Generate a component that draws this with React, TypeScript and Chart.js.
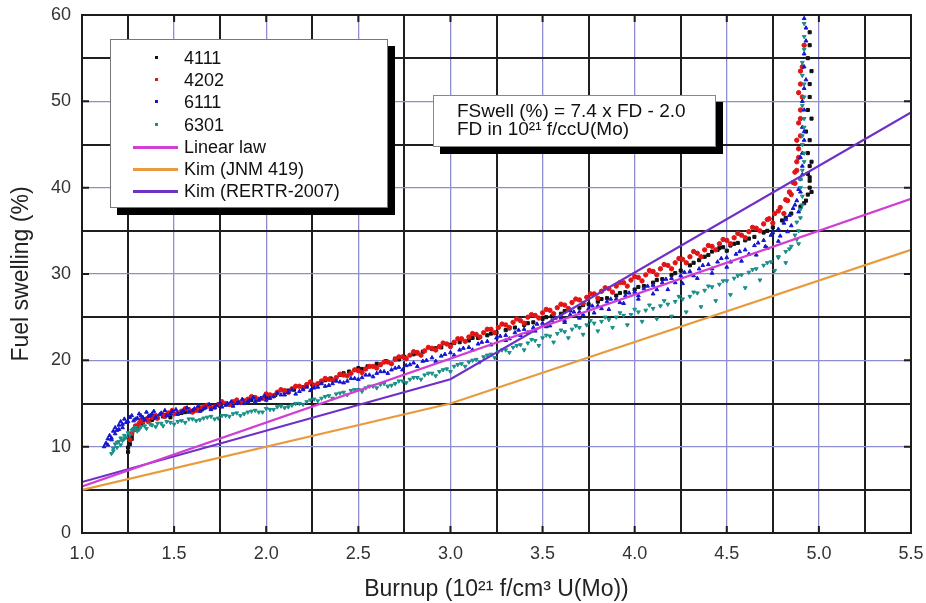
import React, { useEffect, useRef } from 'react';
import { Chart, registerables } from 'chart.js';
Chart.register(...registerables);

// ---------- axis settings ----------
const xMin = 1.0;
const xMax = 5.5;
const yMin = 0;
const yMax = 60;
const xStep = 0.25;
const yStep = 5;
const xMajor = 0.5;
const yMajor = 10;

const xTitle = 'Burnup (10²¹ f/cm³ U(Mo))';
const yTitle = 'Fuel swelling (%)';

// ---------- series names / colours ----------
const seriesNames = ['4111', '4202', '6111', '6301'];
const lineNames = ['Linear law', 'Kim (JNM 419)', 'Kim (RERTR-2007)'];
const formulaLines = ['FSwell (%) = 7.4 x FD - 2.0', 'FD in 10²¹ f/ccU(Mo)'];

const s4111: [number, number][] = [
  [1.25, 9.4], [1.25, 9.9], [1.26, 10.3], [1.26, 10.8], [1.27, 11.3], [1.28, 11.9], [1.30, 12.4], [1.33, 12.8],
  [1.36, 13.0], [1.40, 13.3], [1.44, 13.5], [1.48, 13.4], [1.52, 13.8], [1.56, 14.0], [1.60, 14.1], [1.65, 14.3],
  [1.70, 14.5], [1.75, 14.7], [1.80, 14.9], [1.85, 15.1], [1.90, 15.3], [1.95, 15.5], [2.00, 15.7], [2.05, 16.0],
  [2.10, 16.3], [2.15, 16.6], [2.20, 16.9], [2.25, 17.2], [2.30, 17.5], [2.35, 17.9], [2.40, 18.3], [2.45, 18.7],
  [2.50, 19.1], [2.55, 19.3], [2.60, 19.6], [2.65, 19.9], [2.70, 20.2], [2.75, 20.4], [2.80, 20.7], [2.85, 21.0],
  [2.90, 21.3], [2.95, 21.5], [3.00, 21.8], [3.05, 22.1], [3.10, 22.3], [3.15, 22.6], [3.20, 22.9], [3.25, 23.2],
  [3.30, 23.5], [3.35, 23.8], [3.40, 24.1], [3.45, 24.4], [3.50, 24.8], [3.55, 25.1], [3.60, 25.4], [3.65, 25.8],
  [3.70, 26.1], [3.75, 26.5], [3.80, 26.8], [3.85, 27.2], [3.90, 27.5], [3.95, 27.9], [4.00, 28.2], [4.05, 28.6],
  [4.10, 29.0], [4.15, 29.4], [4.20, 29.9], [4.25, 30.4], [4.30, 31.0], [4.35, 31.6], [4.40, 32.2], [4.45, 32.8],
  [4.48, 33.1], [4.52, 33.3], [4.56, 33.6], [4.60, 33.9], [4.65, 34.3], [4.70, 34.8], [4.75, 35.4], [4.80, 36.2],
  [4.85, 37.0], [4.90, 37.8], [4.93, 38.5], [4.94, 39.2], [4.95, 40.0], [4.95, 40.8], [4.94, 41.6], [4.95, 42.5],
  [4.94, 44.0], [4.93, 46.5], [4.94, 49.0], [4.95, 52.0], [4.94, 55.0], [4.95, 58.0],
  [1.27, 10.9], [1.29, 12.1], [1.32, 12.6], [1.38, 13.1], [1.46, 13.7], [1.54, 13.9], [1.62, 14.3], [1.72, 14.6],
  [1.82, 15.0], [1.92, 15.4], [2.02, 15.9], [2.12, 16.5], [2.22, 17.1], [2.32, 17.7], [2.42, 18.5], [2.52, 19.0],
  [2.62, 19.5], [2.72, 20.1], [2.82, 20.8], [2.92, 21.4], [3.02, 22.0], [3.12, 22.6], [3.22, 23.1], [3.32, 23.7],
  [3.42, 24.3], [3.52, 25.0], [3.62, 25.7], [3.72, 26.4], [3.82, 27.1], [3.92, 27.8], [4.02, 28.5], [4.12, 29.3],
  [4.22, 30.1], [4.32, 31.3], [4.38, 32.0], [4.42, 32.6], [4.46, 33.0], [4.50, 32.7], [4.54, 33.5], [4.62, 34.1],
  [4.72, 35.0], [4.82, 36.5], [4.92, 38.2], [4.96, 39.5], [4.95, 41.2], [4.96, 43.0], [4.95, 45.5], [4.96, 48.0],
  [4.95, 50.5], [4.96, 53.5], [4.95, 56.5],
];

const s4202: [number, number][] = [
  [1.26, 10.8], [1.27, 11.5], [1.28, 12.0], [1.29, 12.4], [1.30, 12.2], [1.31, 12.7], [1.33, 12.9], [1.35, 13.2],
  [1.38, 13.4], [1.41, 13.3], [1.44, 13.7], [1.47, 13.9], [1.50, 13.8], [1.54, 14.1], [1.58, 14.3], [1.62, 14.2],
  [1.66, 14.6], [1.70, 14.5], [1.74, 14.9], [1.78, 15.0], [1.82, 15.2], [1.86, 15.1], [1.90, 15.5], [1.94, 15.7],
  [1.98, 15.6], [2.02, 16.0], [2.06, 16.3], [2.10, 16.5], [2.14, 16.7], [2.18, 17.0], [2.22, 17.2], [2.26, 17.1],
  [2.30, 17.6], [2.34, 17.8], [2.38, 18.0], [2.42, 18.3], [2.46, 18.5], [2.50, 18.8], [2.54, 19.0], [2.58, 19.3],
  [2.62, 19.5], [2.66, 19.8], [2.70, 20.1], [2.74, 20.4], [2.78, 20.6], [2.82, 20.9], [2.86, 21.1], [2.90, 21.4],
  [2.94, 21.6], [2.98, 21.9], [3.02, 22.1], [3.06, 22.5], [3.10, 22.7], [3.14, 23.0], [3.18, 23.2], [3.22, 23.6],
  [3.26, 23.8], [3.30, 24.1], [3.34, 24.4], [3.38, 24.6], [3.42, 25.0], [3.46, 25.2], [3.50, 25.5], [3.54, 25.8],
  [3.58, 26.1], [3.62, 26.4], [3.66, 26.7], [3.70, 27.0], [3.74, 27.3], [3.78, 27.7], [3.82, 28.0], [3.86, 28.3],
  [3.90, 28.6], [3.94, 29.0], [3.98, 29.3], [4.02, 29.6], [4.06, 29.9], [4.10, 30.3], [4.14, 30.6], [4.18, 31.0],
  [4.22, 31.3], [4.26, 31.7], [4.30, 32.0], [4.34, 32.4], [4.38, 32.8], [4.42, 33.2], [4.46, 33.5], [4.50, 33.9],
  [4.54, 34.2], [4.58, 34.5], [4.62, 34.9], [4.66, 35.3], [4.70, 35.8], [4.73, 36.4], [4.76, 37.0], [4.79, 37.7],
  [4.82, 38.6], [4.84, 39.5], [4.86, 40.6], [4.87, 41.8], [4.88, 43.0], [4.89, 44.5], [4.90, 46.0], [4.89, 47.5],
  [4.90, 49.0], [4.91, 50.5], [4.90, 52.0], [4.91, 54.0], [4.92, 56.5],
  [1.32, 13.1], [1.36, 12.9], [1.40, 13.6], [1.45, 13.5], [1.49, 14.2], [1.52, 13.9], [1.56, 14.4], [1.60, 14.0],
  [1.64, 14.5], [1.68, 14.8], [1.72, 14.6], [1.76, 15.2], [1.80, 14.9], [1.84, 15.4], [1.88, 15.3], [1.92, 15.8],
  [1.96, 15.5], [2.00, 16.1], [2.04, 15.9], [2.08, 16.6], [2.12, 16.3], [2.16, 17.0], [2.20, 16.8], [2.24, 17.5],
  [2.28, 17.3], [2.32, 17.9], [2.36, 17.7], [2.40, 18.4], [2.44, 18.2], [2.48, 18.9], [2.52, 18.6], [2.56, 19.3],
  [2.60, 19.1], [2.64, 19.8], [2.68, 19.6], [2.72, 20.4], [2.76, 20.2], [2.80, 21.0], [2.84, 20.6], [2.88, 21.5],
  [2.92, 21.2], [2.96, 22.0], [3.00, 21.6], [3.04, 22.5], [3.08, 22.2], [3.12, 23.1], [3.16, 22.7], [3.20, 23.6],
  [3.24, 23.2], [3.28, 24.2], [3.32, 23.8], [3.36, 24.8], [3.40, 24.3], [3.44, 25.3], [3.48, 24.9], [3.52, 25.9],
  [3.56, 25.4], [3.60, 26.5], [3.64, 26.0], [3.68, 27.1], [3.72, 26.6], [3.76, 27.7], [3.80, 27.2], [3.84, 28.4],
  [3.88, 27.9], [3.92, 29.0], [3.96, 28.6], [4.00, 29.7], [4.04, 29.2], [4.08, 30.4], [4.12, 29.9], [4.16, 31.1],
  [4.20, 30.6], [4.24, 31.8], [4.28, 31.3], [4.32, 32.6], [4.36, 32.0], [4.40, 33.3], [4.44, 32.8], [4.48, 34.0],
  [4.52, 33.5], [4.56, 34.7], [4.60, 34.2], [4.64, 35.4], [4.68, 35.0], [4.72, 36.3], [4.75, 35.9], [4.78, 37.3],
  [4.81, 37.0], [4.83, 38.5], [4.85, 39.2], [4.87, 40.5], [4.88, 42.0], [4.89, 43.5], [4.88, 45.5], [4.90, 48.0],
  [4.89, 51.0], [4.90, 53.5],
];

const s6111: [number, number][] = [
  [1.12, 10.0], [1.13, 10.4], [1.14, 10.9], [1.15, 11.3], [1.16, 11.0], [1.17, 11.8], [1.18, 12.2], [1.19, 11.9],
  [1.20, 12.5], [1.21, 12.9], [1.22, 12.6], [1.23, 13.2], [1.24, 12.8], [1.26, 13.4], [1.28, 13.0], [1.30, 13.3],
  [1.32, 13.6], [1.34, 13.1], [1.36, 13.5], [1.38, 13.8], [1.40, 13.4], [1.43, 13.9], [1.46, 13.6], [1.49, 14.1],
  [1.52, 13.8], [1.55, 14.2], [1.58, 14.0], [1.61, 14.4], [1.64, 14.1], [1.67, 14.5], [1.70, 14.3], [1.73, 14.8],
  [1.76, 14.6], [1.79, 15.0], [1.82, 14.7], [1.85, 15.1], [1.88, 15.0], [1.91, 15.4], [1.94, 15.2], [1.97, 15.6],
  [2.00, 15.4], [2.04, 15.8], [2.08, 16.0], [2.12, 16.3], [2.16, 16.1], [2.20, 16.6], [2.24, 16.5], [2.28, 16.9],
  [2.32, 17.0], [2.36, 17.3], [2.40, 17.5], [2.44, 17.6], [2.48, 17.9], [2.52, 18.0], [2.56, 18.3], [2.60, 18.5],
  [2.64, 18.7], [2.68, 18.9], [2.72, 19.2], [2.76, 19.4], [2.80, 19.7], [2.85, 19.9], [2.90, 20.3], [2.95, 20.5],
  [3.00, 20.9], [3.05, 21.2], [3.10, 21.5], [3.15, 21.9], [3.20, 22.2], [3.25, 22.6], [3.30, 22.9], [3.35, 23.2],
  [3.40, 23.6], [3.45, 23.8], [3.50, 24.3], [3.55, 24.6], [3.60, 24.9], [3.65, 25.3], [3.70, 25.6], [3.75, 26.0],
  [3.80, 26.3], [3.85, 26.8], [3.90, 27.1], [3.95, 27.5], [4.00, 27.9], [4.05, 28.3], [4.10, 28.7], [4.15, 29.0],
  [4.20, 29.5], [4.25, 29.8], [4.30, 30.3], [4.35, 30.6], [4.40, 31.1], [4.45, 31.4], [4.50, 31.9], [4.55, 32.3],
  [4.60, 32.8], [4.65, 33.3], [4.70, 33.9], [4.74, 34.5], [4.78, 35.2], [4.81, 35.9], [4.84, 36.8], [4.86, 37.6],
  [4.88, 38.5], [4.89, 39.8], [4.90, 41.0], [4.91, 42.5], [4.91, 44.0], [4.92, 45.5], [4.91, 47.0], [4.92, 49.0],
  [4.92, 51.5], [4.92, 54.0], [4.93, 57.0], [4.92, 59.6],
  [3.30, 22.3], [3.38, 22.9], [3.46, 23.4], [3.54, 24.0], [3.62, 24.4], [3.70, 24.9], [3.78, 25.5], [3.86, 25.9],
  [3.94, 26.6], [4.02, 27.1], [4.10, 27.7], [4.18, 28.2], [4.26, 28.9], [4.34, 29.5], [4.42, 30.1], [4.50, 30.8],
  [4.58, 31.5], [4.66, 32.2], [4.72, 33.0], [4.78, 33.8], [4.83, 34.9],
  [1.14, 10.2], [1.16, 10.8], [1.18, 11.5], [1.20, 12.0], [1.22, 12.2], [1.25, 12.9], [1.27, 13.6], [1.29, 13.2],
  [1.31, 13.8], [1.33, 13.4], [1.35, 14.0], [1.37, 13.6], [1.39, 14.1], [1.42, 13.7], [1.45, 14.2], [1.48, 13.8],
  [1.51, 14.3], [1.54, 14.0], [1.57, 14.5], [1.60, 14.2], [1.63, 14.7], [1.66, 14.4], [1.69, 14.9], [1.72, 14.5],
  [1.75, 15.1], [1.78, 14.8], [1.81, 15.2], [1.84, 15.0], [1.87, 15.5], [1.90, 15.2], [1.93, 15.7], [1.96, 15.4],
  [1.99, 15.9], [2.02, 15.6], [2.06, 16.2], [2.10, 16.0], [2.14, 16.6], [2.18, 16.4], [2.22, 16.9], [2.26, 16.8],
  [2.30, 17.3], [2.34, 17.1], [2.38, 17.6], [2.42, 17.4], [2.46, 17.9], [2.50, 17.8], [2.54, 18.3], [2.58, 18.1],
  [2.62, 18.7], [2.66, 18.5], [2.70, 19.1], [2.74, 18.9], [2.78, 19.5], [2.82, 19.3], [2.87, 20.0], [2.92, 19.9],
  [2.97, 20.7], [3.02, 20.6], [3.07, 21.4], [3.12, 21.2], [3.17, 22.1], [3.22, 21.8], [3.27, 22.8], [3.32, 22.5],
  [3.37, 23.5], [3.42, 23.2], [3.47, 24.2], [3.52, 23.9], [3.57, 24.9], [3.62, 24.6], [3.67, 25.6], [3.72, 25.3],
  [3.77, 26.3], [3.82, 26.0], [3.87, 27.1], [3.92, 26.7], [3.97, 27.8], [4.02, 27.5], [4.07, 28.6], [4.12, 28.2],
  [4.17, 29.4], [4.22, 29.0], [4.27, 30.2], [4.32, 29.8], [4.37, 31.0], [4.42, 30.6], [4.47, 31.8], [4.52, 31.4],
  [4.57, 32.6], [4.62, 32.3], [4.67, 33.6], [4.71, 33.2], [4.75, 34.8], [4.79, 34.4], [4.82, 36.3], [4.85, 35.6],
  [4.87, 38.0], [4.89, 37.2], [4.90, 39.5], [4.91, 41.5], [4.90, 43.5], [4.92, 46.5], [4.91, 50.0], [4.93, 52.5],
  [4.92, 55.5], [4.93, 58.5],
];

const s6301: [number, number][] = [
  [1.16, 9.2], [1.17, 9.8], [1.18, 10.3], [1.19, 9.9], [1.20, 10.6], [1.21, 11.0], [1.22, 10.7], [1.23, 11.3],
  [1.25, 11.6], [1.27, 11.9], [1.29, 12.2], [1.31, 12.0], [1.34, 12.4], [1.37, 12.6], [1.40, 12.3], [1.43, 12.7],
  [1.46, 12.9], [1.50, 12.6], [1.54, 13.0], [1.58, 13.2], [1.62, 13.0], [1.66, 13.3], [1.70, 13.5], [1.74, 13.3],
  [1.78, 13.6], [1.82, 13.8], [1.86, 13.6], [1.90, 14.0], [1.94, 14.2], [1.98, 14.0], [2.02, 14.3], [2.06, 14.6],
  [2.10, 14.5], [2.14, 14.8], [2.18, 15.0], [2.22, 15.2], [2.26, 15.5], [2.30, 15.6], [2.34, 15.9], [2.38, 16.1],
  [2.42, 16.3], [2.46, 16.5], [2.50, 16.6], [2.54, 16.8], [2.58, 17.0], [2.62, 17.2], [2.66, 17.0], [2.70, 17.3],
  [2.74, 17.6], [2.78, 17.8], [2.82, 18.0], [2.86, 18.3], [2.90, 18.5], [2.94, 18.7], [2.98, 19.0], [3.02, 19.3],
  [3.06, 19.6], [3.10, 19.8], [3.14, 20.1], [3.18, 20.4], [3.22, 20.7], [3.26, 21.0], [3.30, 21.2], [3.34, 21.5],
  [3.38, 21.8], [3.42, 22.0], [3.46, 22.3], [3.50, 22.6], [3.54, 22.8], [3.58, 23.1], [3.62, 23.3], [3.66, 23.6],
  [3.70, 23.8], [3.74, 24.1], [3.78, 24.3], [3.82, 24.5], [3.86, 24.7], [3.90, 25.0], [3.94, 25.2], [3.98, 25.3],
  [4.02, 25.6], [4.06, 25.8], [4.10, 26.0], [4.14, 26.3], [4.18, 26.5], [4.22, 26.8], [4.26, 27.1], [4.30, 27.4],
  [4.34, 27.8], [4.38, 28.1], [4.42, 28.5], [4.46, 28.8], [4.50, 29.2], [4.54, 29.5], [4.58, 29.9], [4.62, 30.2],
  [4.66, 30.6], [4.70, 31.0], [4.74, 31.4], [4.78, 32.0], [4.82, 32.6], [4.85, 33.2], [4.88, 34.0], [4.89, 35.0],
  [4.90, 36.5], [4.91, 38.0], [4.90, 40.0], [4.91, 42.0], [4.92, 44.0], [4.91, 46.0], [4.92, 48.0], [4.92, 50.5],
  [4.91, 53.0], [4.92, 56.0], [4.92, 59.0],
  [3.40, 21.2], [3.48, 21.7], [3.56, 22.1], [3.64, 22.6], [3.72, 23.0], [3.80, 23.4], [3.88, 23.8], [3.96, 24.1],
  [4.04, 24.5], [4.12, 24.8], [4.20, 25.1], [4.28, 25.6], [4.36, 26.2], [4.44, 26.9], [4.52, 27.6], [4.60, 28.4],
  [4.68, 29.3], [4.76, 30.4], [4.82, 31.3],
  [1.17, 9.5], [1.19, 10.5], [1.21, 10.2], [1.23, 10.9], [1.24, 11.1], [1.26, 11.4], [1.28, 12.0], [1.30, 11.8],
  [1.32, 12.3], [1.35, 12.1], [1.38, 12.5], [1.41, 12.7], [1.44, 12.4], [1.48, 12.8], [1.52, 12.9], [1.56, 12.8],
  [1.60, 13.2], [1.64, 13.1], [1.68, 13.4], [1.72, 13.2], [1.76, 13.6], [1.80, 13.5], [1.84, 13.9], [1.88, 13.8],
  [1.92, 14.1], [1.96, 14.0], [2.00, 14.4], [2.04, 14.3], [2.08, 14.7], [2.12, 14.6], [2.16, 15.0], [2.20, 14.9],
  [2.24, 15.4], [2.28, 15.3], [2.32, 15.8], [2.36, 15.6], [2.40, 16.2], [2.44, 16.0], [2.48, 16.6], [2.52, 16.4],
  [2.56, 17.0], [2.60, 16.8], [2.64, 17.3], [2.68, 17.1], [2.72, 17.6], [2.76, 17.4], [2.80, 18.0], [2.84, 17.8],
  [2.88, 18.5], [2.92, 18.2], [2.96, 18.9], [3.00, 18.7], [3.04, 19.5], [3.08, 19.3], [3.12, 20.0], [3.16, 19.8],
  [3.20, 20.6], [3.24, 20.3], [3.28, 21.2], [3.32, 20.9], [3.36, 21.7], [3.44, 22.4], [3.52, 22.9], [3.60, 23.5],
  [3.68, 24.0], [3.76, 24.6], [3.84, 25.0], [3.92, 25.5], [4.00, 25.9], [4.08, 26.4], [4.16, 26.9], [4.24, 27.4],
  [4.32, 27.9], [4.40, 28.6], [4.48, 29.2], [4.56, 29.8], [4.64, 30.5], [4.72, 31.3], [4.78, 31.9], [4.84, 32.9],
  [4.87, 34.5], [4.89, 33.5], [4.88, 36.0], [4.90, 37.5], [4.91, 39.0], [4.90, 41.0], [4.92, 43.0], [4.91, 45.0],
  [4.92, 47.0], [4.91, 49.5], [4.92, 52.0], [4.91, 54.5], [4.92, 57.5],
];

// ---------- model lines ----------
const linearLaw: [number, number][] = [[1.0, 5.4], [5.5, 38.7]];
const kimJNM419: [number, number][] = [[1.0, 5.0], [3.0, 15.0], [5.5, 32.8]];
const kimRERTR2007: [number, number][] = [[1.0, 5.9], [3.0, 17.8], [5.5, 48.7]];

// ---------- styles ----------
const pointColors = ['#111111', '#e01515', '#1515d0', '#1a9088'];
const pointStyles = ['rect', 'circle', 'triangle', 'triangle'];
const pointRotations = [0, 0, 0, 180];
const lineColors = ['#d23ed2', '#e89a3c', '#7030c8'];

const FONT = '"Liberation Sans", Arial, sans-serif';

const toXY = (arr: [number, number][]) => arr.map(([x, y]) => ({ x, y }));

const framePlugin = {
  id: 'frame',
  afterDraw(chart: any) {
    const { ctx, chartArea } = chart;
    const { left, right, top, bottom } = chartArea;
    const xs = chart.scales.x;
    const ys = chart.scales.y;
    ctx.save();
    ctx.strokeStyle = '#1c1c1c';
    ctx.lineWidth = 2;
    ctx.strokeRect(left, top, right - left, bottom - top);
    const len = 7;
    ctx.beginPath();
    for (let v = xMin + xMajor; v < xMax - 1e-6; v += xMajor) {
      const px = xs.getPixelForValue(v);
      ctx.moveTo(px, bottom); ctx.lineTo(px, bottom - len);
      ctx.moveTo(px, top); ctx.lineTo(px, top + len);
    }
    for (let v = yMin + yMajor; v < yMax - 1e-6; v += yMajor) {
      const py = ys.getPixelForValue(v);
      ctx.moveTo(left, py); ctx.lineTo(left + len, py);
      ctx.moveTo(right, py); ctx.lineTo(right - len, py);
    }
    ctx.stroke();
    ctx.restore();
  },
};

const isMultiple = (v: number, m: number) => Math.abs(v / m - Math.round(v / m)) < 1e-6;

export default function App() {
  const ref = useRef<HTMLCanvasElement | null>(null);

  useEffect(() => {
    if (!ref.current) return;
    const pointSets = [s4111, s4202, s6111, s6301];
    const lineSets = [linearLaw, kimJNM419, kimRERTR2007];
    const datasets: any[] = [];
    lineSets.forEach((d, i) => {
      datasets.push({
        label: lineNames[i],
        data: toXY(d),
        showLine: true,
        borderColor: lineColors[i],
        backgroundColor: lineColors[i],
        borderWidth: 2.2,
        pointRadius: 0,
        tension: 0,
        order: 0,
      });
    });
    pointSets.forEach((d, i) => {
      datasets.push({
        label: seriesNames[i],
        data: toXY(d),
        showLine: false,
        pointStyle: pointStyles[i],
        rotation: pointRotations[i],
        pointRadius: 2.2,
        borderWidth: 1,
        borderColor: pointColors[i],
        backgroundColor: pointColors[i],
        order: 4 - i,
      });
    });

    const gridColor = (m: number) => (ctx: any) =>
      ctx.tick && isMultiple(ctx.tick.value, m) ? '#8d8dcf' : '#1f1f1f';
    const gridWidth = (m: number) => (ctx: any) =>
      ctx.tick && isMultiple(ctx.tick.value, m) ? 1.3 : 2;

    const chart = new Chart(ref.current, {
      type: 'scatter',
      data: { datasets },
      plugins: [framePlugin],
      options: {
        animation: false,
        responsive: false,
        maintainAspectRatio: false,
        layout: { padding: { top: 15, right: 15, left: 0, bottom: 0 } },
        plugins: { legend: { display: false }, tooltip: { enabled: false } },
        scales: {
          x: {
            type: 'linear',
            min: xMin,
            max: xMax,
            afterFit: (s: any) => { s.height = 70; s.paddingLeft = 0; s.paddingRight = 0; },
            ticks: {
              stepSize: xStep,
              autoSkip: false,
              maxRotation: 0,
              padding: 10,
              color: '#333',
              font: { family: FONT, size: 18 },
              callback: (v: any) => (isMultiple(Number(v), xMajor) ? Number(v).toFixed(1) : ''),
            },
            grid: { color: gridColor(xMajor), lineWidth: gridWidth(xMajor), drawTicks: false },
            border: { display: false },
            title: {
              display: true,
              text: xTitle,
              color: '#222',
              font: { family: FONT, size: 23 },
              padding: { top: 0, bottom: 0 },
            },
          },
          y: {
            type: 'linear',
            min: yMin,
            max: yMax,
            afterFit: (s: any) => { s.width = 82; s.paddingTop = 0; s.paddingBottom = 0; },
            ticks: {
              stepSize: yStep,
              autoSkip: false,
              padding: 11,
              color: '#333',
              font: { family: FONT, size: 18 },
              callback: (v: any) => (isMultiple(Number(v), yMajor) ? String(v) : ''),
            },
            grid: { color: gridColor(yMajor), lineWidth: gridWidth(yMajor), drawTicks: false },
            border: { display: false },
            title: {
              display: true,
              text: yTitle,
              color: '#222',
              font: { family: FONT, size: 23 },
              padding: { top: 8, bottom: 0 },
            },
          },
        },
      },
    });
    return () => chart.destroy();
  }, []);

  const legendRows = [
    ...seriesNames.map((n, i) => ({ name: n, kind: 'point', color: pointColors[i] })),
    ...lineNames.map((n, i) => ({ name: n, kind: 'line', color: lineColors[i] })),
  ];

  return (
    <div style={{ position: 'absolute', left: 0, top: 0, width: 926, height: 603, background: '#fff' }}>
      <canvas ref={ref} width={926} height={603} style={{ display: 'block' }} />
      <div
        style={{
          position: 'absolute', left: 110, top: 39, width: 276, height: 167,
          background: '#fff', border: '1px solid #777', boxShadow: '7px 7px 0 #000',
          fontFamily: FONT, fontSize: 18, color: '#111',
        }}
      >
        {legendRows.map((r, i) => (
          <div key={r.name} style={{ position: 'absolute', left: 0, top: 7 + i * 22.2, height: 22, width: '100%' }}>
            {r.kind === 'point' ? (
              <div style={{ position: 'absolute', left: 44, top: 9, width: 3, height: 3, background: r.color }} />
            ) : (
              <div style={{ position: 'absolute', left: 22, top: 10, width: 45, height: 3, background: r.color }} />
            )}
            <div style={{ position: 'absolute', left: 73, top: 0, lineHeight: '22px', whiteSpace: 'nowrap' }}>{r.name}</div>
          </div>
        ))}
      </div>
      <div
        style={{
          position: 'absolute', left: 433, top: 95, width: 281, height: 50,
          background: '#fff', border: '1px solid #888', boxShadow: '7px 7px 0 #000',
          fontFamily: FONT, fontSize: 19, color: '#111',
        }}
      >
        {formulaLines.map((t, i) => (
          <div key={t} style={{ position: 'absolute', left: 23, top: 5 + i * 18, lineHeight: '20px', whiteSpace: 'nowrap' }}>{t}</div>
        ))}
      </div>
    </div>
  );
}
